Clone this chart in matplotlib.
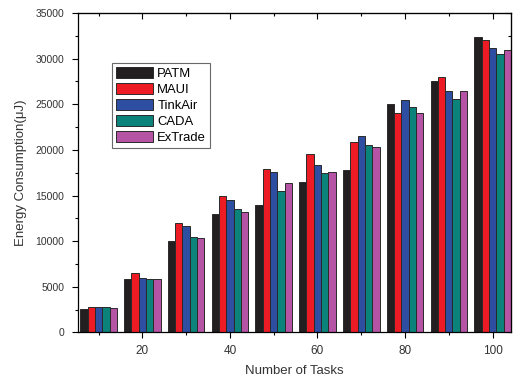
import numpy as np
import matplotlib
matplotlib.use("Agg")
import matplotlib.pyplot as plt
from matplotlib.ticker import MultipleLocator

plt.rcParams['font.family'] = ['Liberation Sans', 'DejaVu Sans']

tasks = [10, 20, 30, 40, 50, 60, 70, 80, 90, 100]
patm    = [2600, 5900, 10000, 13000, 14000, 16500, 17800, 25000, 27600, 32400]
maui    = [2800, 6500, 12000, 15000, 17900, 19500, 20900, 24000, 28000, 32000]
tinkair = [2750, 6000, 11700, 14500, 17600, 18400, 21500, 25500, 26500, 31200]
cada    = [2800, 5900, 10500, 13500, 15500, 17500, 20500, 24700, 25600, 30500]
extrade = [2650, 5850, 10300, 13200, 16400, 17600, 20300, 24000, 26500, 31000]

series = [("PATM", patm, "#231f20"),
          ("MAUI", maui, "#ed1c24"),
          ("TinkAir", tinkair, "#2e4ea2"),
          ("CADA", cada, "#0b837b"),
          ("ExTrade", extrade, "#b553a4")]

fig = plt.figure(figsize=(5.13, 3.83), dpi=100)
ax = fig.add_axes([0.152, 0.132, 0.844, 0.834])

width = 1.67
x = np.array(tasks, dtype=float)
for i, (name, vals, col) in enumerate(series):
    ax.bar(x + (i - 2) * width, vals, width=width, color=col,
           edgecolor="#2a2a2a", linewidth=0.7, label=name)

ax.set_xlim(5.3, 104.2)
ax.set_ylim(0, 35000)
ax.xaxis.set_major_locator(MultipleLocator(20))
ax.xaxis.set_minor_locator(MultipleLocator(10))
ax.yaxis.set_major_locator(MultipleLocator(5000))
ax.yaxis.set_minor_locator(MultipleLocator(2500))

ax.tick_params(axis='x', which='major', direction='out', length=4, width=0.8,
               labelsize=8.5, pad=5, labelcolor="#333333")
ax.tick_params(axis='x', which='minor', direction='out', length=2.5, width=0.8)
ax.tick_params(axis='y', which='major', direction='out', length=4, width=0.8,
               labelsize=7.5, pad=6, labelcolor="#333333")
ax.tick_params(axis='y', which='minor', direction='out', length=2.5, width=0.8)

# mirrored ticks on top and right, pointing inward
top = ax.secondary_xaxis('top')
top.xaxis.set_major_locator(MultipleLocator(20))
top.xaxis.set_minor_locator(MultipleLocator(10))
top.tick_params(which='major', direction='in', length=4, width=0.8, labeltop=False)
top.tick_params(which='minor', direction='in', length=2.5, width=0.8)
right = ax.secondary_yaxis('right')
right.yaxis.set_major_locator(MultipleLocator(5000))
right.yaxis.set_minor_locator(MultipleLocator(2500))
right.tick_params(which='major', direction='in', length=4, width=0.8, labelright=False)
right.tick_params(which='minor', direction='in', length=2.5, width=0.8)

for sp in ax.spines.values():
    sp.set_linewidth(0.9)

ax.set_xlabel("Number of Tasks", fontsize=9.5, color="#333333", labelpad=6)
ax.set_ylabel("Energy Consumption(\u03bcJ)", fontsize=9.5, color="#333333", labelpad=6)

leg = ax.legend(loc='upper left', bbox_to_anchor=(0.079, 0.843), borderaxespad=0,
                fontsize=9.4, frameon=True, fancybox=False, edgecolor="#444444",
                handlelength=2.8, handleheight=0.95, handletextpad=0.35,
                labelspacing=0.22, borderpad=0.3)
leg.get_frame().set_linewidth(0.8)

fig.savefig("out.png", dpi=100)
